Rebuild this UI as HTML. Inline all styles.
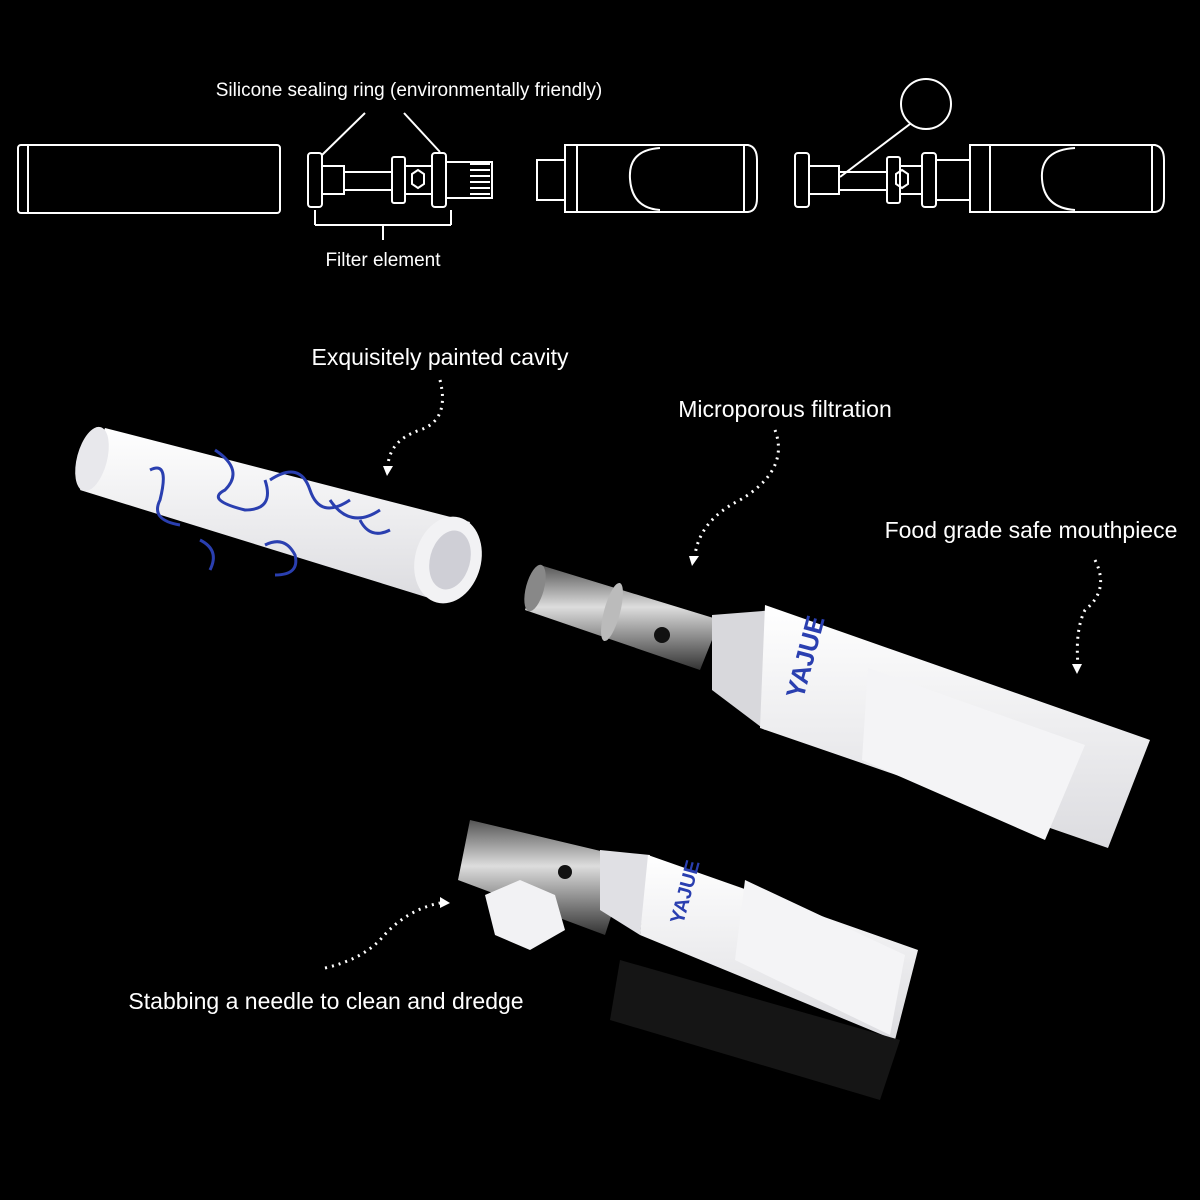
<!DOCTYPE html>
<html><head><meta charset="utf-8"><style>
html,body{margin:0;padding:0;background:#000;}
svg{display:block}
text{font-family:"Liberation Sans",sans-serif;fill:#fff}
</style></head><body>
<svg width="1200" height="1200" viewBox="0 0 1200 1200" xmlns="http://www.w3.org/2000/svg">
<rect width="1200" height="1200" fill="#000"/>
<defs>
<linearGradient id="wg" x1="0" y1="0" x2="0" y2="1"><stop offset="0" stop-color="#fff"/><stop offset="1" stop-color="#dcdce0"/></linearGradient>
<linearGradient id="mg" x1="0" y1="0" x2="0" y2="1"><stop offset="0" stop-color="#555"/><stop offset="0.4" stop-color="#ddd"/><stop offset="1" stop-color="#333"/></linearGradient>
</defs>
<g fill="none" stroke="#fff" stroke-width="2">
<rect x="18" y="145" width="262" height="68" rx="3"/><line x1="28" y1="146" x2="28" y2="212"/>
<rect x="308" y="153" width="14" height="54" rx="3"/><rect x="432" y="153" width="14" height="54" rx="3"/>
<rect x="322" y="166" width="22" height="28"/><rect x="344" y="172" width="48" height="18"/>
<rect x="392" y="157" width="13" height="46" rx="2"/><rect x="405" y="166" width="27" height="28"/>
<path d="M446 162 H492 V198 H446"/><path d="M470 164 h20 M470 170 h20 M470 176 h20 M470 182 h20 M470 188 h20 M470 194 h20"/>
<polygon points="412,174 418,170 424,174 424,184 418,188 412,184"/>
<line x1="315" y1="210" x2="315" y2="225"/><line x1="315" y1="225" x2="451" y2="225"/><line x1="451" y1="210" x2="451" y2="225"/><line x1="383" y1="225" x2="383" y2="240"/>
<line x1="365" y1="113" x2="322" y2="155"/><line x1="404" y1="113" x2="440" y2="152"/>
<rect x="537" y="160" width="28" height="40"/>
<path d="M565 145 H748 Q757 147 757 160 V198 Q757 211 748 212 H565 Z"/><line x1="577" y1="146" x2="577" y2="211"/><path d="M660 148 Q628 150 630 179 Q632 208 660 210"/><line x1="744" y1="146" x2="744" y2="211"/>
<rect x="795" y="153" width="14" height="54" rx="3"/><rect x="809" y="166" width="30" height="28"/><rect x="839" y="172" width="48" height="18"/>
<rect x="887" y="157" width="13" height="46" rx="2"/><rect x="900" y="166" width="22" height="28"/><rect x="922" y="153" width="14" height="54" rx="3"/><rect x="936" y="160" width="34" height="40"/>
<polygon points="896,174 902,170 908,174 908,184 902,188 896,184"/>
<path d="M970 145 H1155 Q1164 147 1164 160 V198 Q1164 211 1155 212 H970 Z"/><line x1="990" y1="146" x2="990" y2="211"/><path d="M1075 148 Q1040 150 1042 179 Q1044 208 1075 210"/><line x1="1152" y1="146" x2="1152" y2="211"/>
<circle cx="926" cy="104" r="25"/><line x1="910" y1="124" x2="840" y2="177"/>
</g>
<text x="409" y="96" font-size="19" text-anchor="middle">Silicone sealing ring (environmentally friendly)</text>
<text x="383" y="266" font-size="19" text-anchor="middle">Filter element</text>
<text x="440" y="365" font-size="23" text-anchor="middle">Exquisitely painted cavity</text>
<text x="785" y="417" font-size="23" text-anchor="middle">Microporous filtration</text>
<text x="1031" y="538" font-size="23" text-anchor="middle">Food grade safe mouthpiece</text>
<text x="326" y="1009" font-size="23" text-anchor="middle">Stabbing a needle to clean and dredge</text>
<g fill="none" stroke="#fff" stroke-width="3" stroke-dasharray="2 5">
<path d="M440 380 Q450 420 420 430 Q390 440 388 465"/>
<path d="M775 430 Q790 470 740 500 Q700 520 695 555"/>
<path d="M1095 560 Q1110 590 1085 610 Q1075 630 1078 665"/>
<path d="M325 968 Q360 960 380 940 Q405 910 440 903"/>
</g>
<g fill="#fff"><polygon points="383,466 393,466 387,476"/><polygon points="689,556 699,556 692,566"/><polygon points="1072,664 1082,664 1077,674"/><polygon points="440,897 450,903 440,908"/></g>
<polygon points="105,428 470,522 442,602 80,490" fill="url(#wg)"/>
<ellipse cx="92" cy="459" rx="15" ry="33" transform="rotate(15 92 459)" fill="#e8e8ec"/>
<ellipse cx="448" cy="560" rx="33" ry="44" transform="rotate(15 448 560)" fill="#f2f2f4"/>
<ellipse cx="450" cy="560" rx="20" ry="30" transform="rotate(15 450 560)" fill="#cfcfd6"/>
<g fill="none" stroke="#2a3fb0" stroke-width="3">
<path d="M150 470 q20 -10 10 30 q-10 20 20 25"/><path d="M215 450 q30 20 10 40 q-20 10 20 20 q30 0 20 -30"/><path d="M270 480 q30 -20 40 10 q10 30 40 10"/><path d="M330 500 q20 30 50 10"/><path d="M265 545 q20 -10 30 10 q5 20 -20 20"/><path d="M200 540 q20 10 10 30"/><path d="M360 520 q10 20 30 10"/>
</g>
<polygon points="540,565 720,620 700,670 525,610" fill="url(#mg)"/>
<ellipse cx="535" cy="588" rx="9" ry="24" transform="rotate(15 535 588)" fill="#888"/>
<ellipse cx="612" cy="612" rx="8" ry="30" transform="rotate(15 612 612)" fill="#bbb"/>
<circle cx="662" cy="635" r="8" fill="#111"/>
<polygon points="712,615 775,610 765,730 712,690" fill="#d8d8dc"/>
<polygon points="765,605 1150,740 1108,848 760,728" fill="url(#wg)"/>
<polygon points="868,668 1085,745 1045,840 862,760" fill="#f4f4f6"/>
<text x="0" y="0" font-size="26" font-weight="bold" style="fill:#2a3fb0" transform="translate(803,700) rotate(-75)">YAJUE</text>
<polygon points="470,820 630,858 605,935 458,880" fill="url(#mg)"/>
<circle cx="565" cy="872" r="7" fill="#111"/>
<polygon points="600,850 650,855 640,935 600,910" fill="#e0e0e4"/>
<polygon points="648,855 918,950 895,1040 640,935" fill="url(#wg)"/>
<polygon points="745,880 905,955 890,1035 735,960" fill="#f4f4f6"/>
<text x="0" y="0" font-size="20" font-weight="bold" style="fill:#2a3fb0" transform="translate(683,925) rotate(-75)">YAJUE</text>
<polygon points="485,895 520,880 555,895 565,930 530,950 495,935" fill="#f2f2f4"/>
<polygon points="620,960 900,1040 880,1100 610,1020" fill="#151515"/>
</svg>
</body></html>
